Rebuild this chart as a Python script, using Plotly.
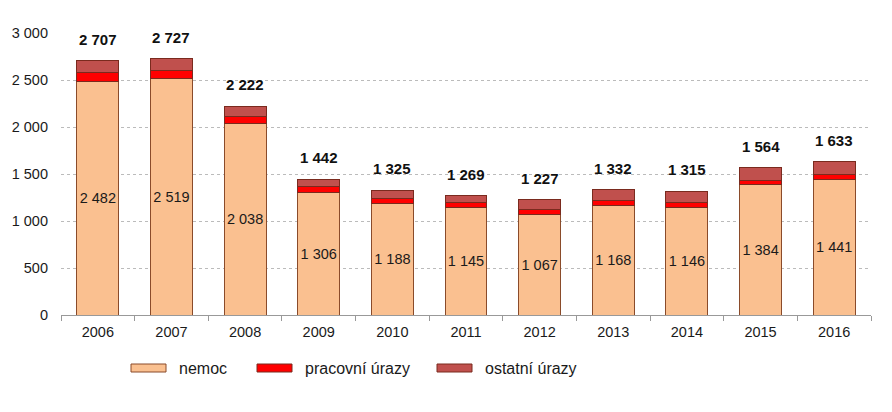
import plotly.graph_objects as go

years = ['2006', '2007', '2008', '2009', '2010', '2011',
         '2012', '2013', '2014', '2015', '2016']
nemoc = [2482, 2519, 2038, 1306, 1188, 1145, 1067, 1168, 1146, 1384, 1441]
pracovni_urazy = [93, 84, 76, 58, 49, 56, 53, 50, 55, 50, 54]
ostatni_urazy = [132, 124, 108, 78, 88, 68, 107, 114, 114, 130, 138]
celkem = [2707, 2727, 2222, 1442, 1325, 1269, 1227, 1332, 1315, 1564, 1633]

series_names = ['nemoc', 'pracovní úrazy', 'ostatní úrazy']
colors = ['#FAC090', '#FF0000', '#C0504D']
outline = '#8A4B2A'
font_name = 'Liberation Sans, Arial, sans-serif'


def fmt(v):
    return f'{v:,}'.replace(',', ' ')


fig = go.Figure()
fig.add_trace(go.Bar(x=years, y=nemoc, name=series_names[0],
                     marker=dict(color=colors[0], line=dict(color=outline, width=1)),
                     text=[fmt(v) for v in nemoc], textposition='inside',
                     insidetextanchor='middle', constraintext='none',
                     textfont=dict(size=14.5, color='#1a1a1a'), textangle=0))
fig.add_trace(go.Bar(x=years, y=pracovni_urazy, name=series_names[1],
                     marker=dict(color=colors[1], line=dict(color='#7A2A1E', width=1))))
fig.add_trace(go.Bar(x=years, y=ostatni_urazy, name=series_names[2],
                     marker=dict(color=colors[2], line=dict(color='#7A2A1E', width=1))))

# totals above bars (category axis -> annotation x is the category index)
for i, tot in enumerate(celkem):
    fig.add_annotation(x=i, y=tot, text='<b>' + fmt(tot) + '</b>', showarrow=False,
                       yanchor='bottom', yshift=11,
                       font=dict(size=15, color='#111111', family=font_name))

# legend drawn by hand, wide swatches like the original
leg_x = [131, 257, 437]
sw_w = 35
for i, name in enumerate(series_names):
    x0 = (leg_x[i] - 61) / 810
    x1 = (leg_x[i] + sw_w - 61) / 810
    fig.add_shape(type='rect', xref='paper', yref='paper',
                  x0=x0, x1=x1, y0=(315 - 372) / 282, y1=(315 - 364) / 282,
                  fillcolor=colors[i], line=dict(color=outline if i == 0 else '#7A2A1E', width=1))
    fig.add_annotation(xref='paper', yref='paper', x=(leg_x[i] + sw_w + 11 - 61) / 810,
                       y=(315 - 368) / 282, text=name, showarrow=False,
                       xanchor='left', yanchor='middle',
                       font=dict(size=16, color='#1a1a1a', family=font_name))

# page body has an 8px margin, so the figure is shrunk and shifted to fit
fig.update_layout(
    barmode='stack', bargap=0.43, width=884, height=404,
    margin=dict(l=53, r=21, t=25, b=97),
    paper_bgcolor='white', plot_bgcolor='white',
    showlegend=False,
    font=dict(family=font_name, size=14.5, color='#1a1a1a'),
    separators=', ',
)
fig.update_xaxes(type='category', showline=True, linecolor='#999999', linewidth=1,
                 ticks='outside', ticklen=5, tickcolor='#999999',
                 tickson='boundaries', showgrid=False, tickangle=0,
                 ticklabelstandoff=4, automargin=False)
fig.update_yaxes(range=[0, 3000], dtick=500, tickformat=',d',
                 showgrid=True, gridcolor='#BBBBBB', griddash='dot', gridwidth=1,
                 zeroline=False, showline=False, ticklabelstandoff=12,
                 automargin=False)

fig.write_html('out.html')
